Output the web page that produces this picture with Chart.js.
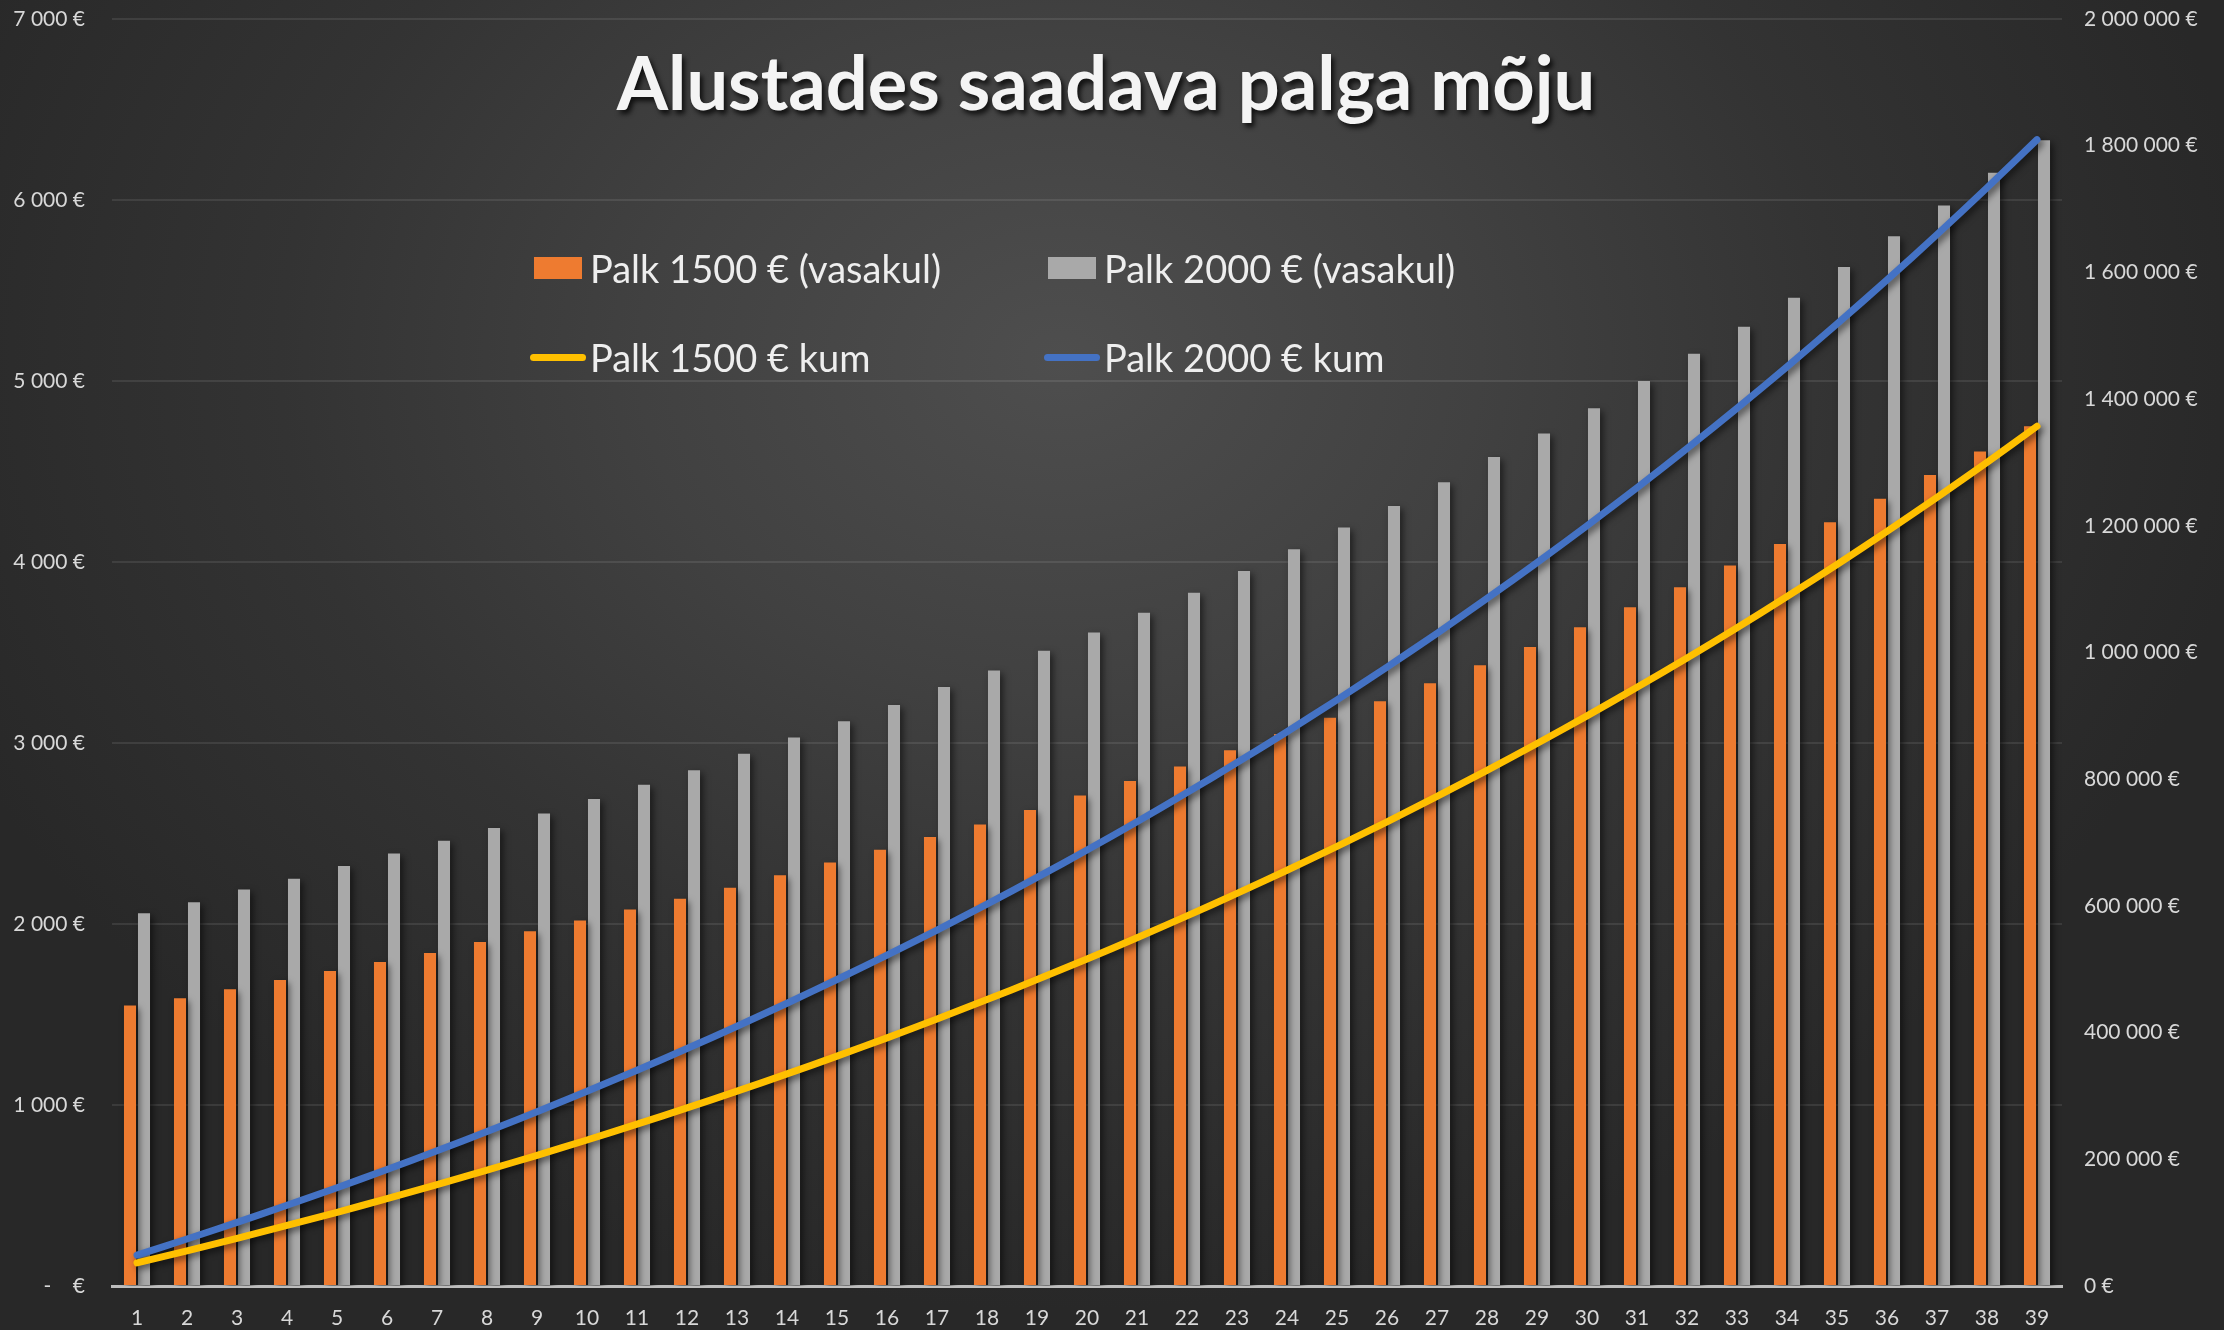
<!DOCTYPE html>
<html>
<head>
<meta charset="utf-8">
<script src="https://cdn.jsdelivr.net/npm/chart.js@4.4.1/dist/chart.umd.min.js"></script>
<style>
  body { margin: 0; background: #262626; }
  #wrap {
    position: relative;
    width: 2224px;
    height: 1330px;
    overflow: hidden;
    background: radial-gradient(ellipse 1200px 950px at 1060px 360px, #4e4e4e 0%, #414141 35%, #333333 65%, #282828 100%);
    font-family: Lato, "Open Sans", sans-serif;
  }
  #chart { position: absolute; left: 0; top: 0; }
  #title {
    position: absolute;
    left: 0; width: 2212px;
    top: 37px;
    text-align: center;
    color: #f4f4f4;
    font-weight: bold;
    font-size: 74px;
    text-shadow: 3px 4px 5px rgba(0,0,0,0.75);
    pointer-events: none;
  }
  #legend {
    position: absolute;
    left: 530px;
    top: 244px;
    display: grid;
    grid-template-columns: 514px 514px;
    grid-auto-rows: 89px;
    pointer-events: none;
  }
  .item { display: flex; align-items: center; height: 48px; color: #eeeeee; font-size: 38px; }
  .sw { width: 56px; height: 48px; display: flex; align-items: center; justify-content: center; margin-right: 4px; }
  .box { width: 48px; height: 22px; }
  .ln { width: 56px; height: 7px; border-radius: 4px; }
</style>
</head>
<body>
<div id="wrap">
  <canvas id="chart" width="2224" height="1330"></canvas>
  <div id="title">Alustades saadava palga mõju</div>
  <div id="legend"></div>
</div>
<script>
// years 1..39
const years = ['1','2','3','4','5','6','7','8','9','10','11','12','13','14','15','16','17','18','19','20',
  '21','22','23','24','25','26','27','28','29','30','31','32','33','34','35','36','37','38','39'];

// monthly salary, left axis
const palk1500 = [1550, 1590, 1640, 1690, 1740, 1790, 1840, 1900, 1960, 2020,
  2080, 2140, 2200, 2270, 2340, 2410, 2480, 2550, 2630, 2710,
  2790, 2870, 2960, 3050, 3140, 3230, 3330, 3430, 3530, 3640,
  3750, 3860, 3980, 4100, 4220, 4350, 4480, 4610, 4750];
const palk2000 = [2060, 2120, 2190, 2250, 2320, 2390, 2460, 2530, 2610, 2690,
  2770, 2850, 2940, 3030, 3120, 3210, 3310, 3400, 3510, 3610,
  3720, 3830, 3950, 4070, 4190, 4310, 4440, 4580, 4710, 4850,
  5000, 5150, 5300, 5460, 5630, 5800, 5970, 6150, 6330];

// cumulative, right axis
const kum1500 = [36500, 55600, 75300, 95600, 116400, 137900, 160100, 182900, 206300, 230500,
  255500, 281100, 307600, 334800, 362800, 391700, 421500, 452100, 483700, 516200,
  549700, 584200, 619700, 656300, 694000, 732800, 772800, 813900, 856400, 900000,
  945100, 991400, 1039100, 1088300, 1139000, 1191100, 1244900, 1300200, 1357200];
const kum2000 = [48700, 74200, 100400, 127400, 155200, 183900, 213400, 243800, 275100, 307400,
  340600, 374800, 410100, 446400, 483800, 522300, 561900, 602800, 644900, 688200,
  732900, 778900, 826200, 875000, 925300, 977000, 1030300, 1085300, 1141800, 1200100,
  1260100, 1321900, 1385500, 1451100, 1518600, 1588200, 1659800, 1733600, 1809600];

const leftTicks = [0, 1000, 2000, 3000, 4000, 5000, 6000, 7000];
const rightTicks = [0, 200000, 400000, 600000, 800000, 1000000, 1200000, 1400000, 1600000, 1800000, 2000000];

function euro(v) {
  return String(v).replace(/\B(?=(\d{3})+(?!\d))/g, ' ') + ' €';
}

// drop shadow like the office chart
const shadowPlugin = {
  id: 'shadow',
  beforeDatasetDraw(chart) {
    const ctx = chart.ctx;
    ctx.save();
    ctx.shadowColor = 'rgba(0,0,0,0.55)';
    ctx.shadowBlur = 7;
    ctx.shadowOffsetX = 3;
    ctx.shadowOffsetY = 3;
  },
  afterDatasetDraw(chart) {
    chart.ctx.restore();
  }
};

const tickFont = { family: 'Lato', size: 21 };
const tickColor = '#d8d8d8';

// plot area edges (top comes from the scales' padding)
function fixV(w) {
  return s => { s.width = w; s.paddingTop = 19; s.paddingBottom = 0; };
}

const chart = new Chart(document.getElementById('chart'), {
  data: {
    labels: years,
    datasets: [
      { type: 'bar', label: 'Palk 1500 € (vasakul)', data: palk1500, backgroundColor: '#EE7B30', yAxisID: 'y', order: 2 },
      { type: 'bar', label: 'Palk 2000 € (vasakul)', data: palk2000, backgroundColor: '#A9A9A9', yAxisID: 'y', order: 2 },
      { type: 'line', label: 'Palk 1500 € kum', data: kum1500, borderColor: '#FFC000', borderWidth: 7,
        pointRadius: 0, tension: 0.3, borderCapStyle: 'round', yAxisID: 'y1', order: 1 },
      { type: 'line', label: 'Palk 2000 € kum', data: kum2000, borderColor: '#4472C4', borderWidth: 7,
        pointRadius: 0, tension: 0.3, borderCapStyle: 'round', yAxisID: 'y1', order: 1 }
    ]
  },
  options: {
    responsive: false,
    animation: false,
    devicePixelRatio: 1,
    layout: { padding: 0 },
    datasets: { bar: { categoryPercentage: 0.56, barPercentage: 0.86 } },
    plugins: { legend: { display: false }, title: { display: false }, tooltip: { enabled: false } },
    scales: {
      x: {
        grid: { display: false, drawTicks: false },
        border: { color: '#bdbdbd', width: 3 },
        ticks: { color: tickColor, font: tickFont, padding: 20, maxRotation: 0, autoSkip: false },
        afterFit: s => { s.height = 44; }
      },
      y: {
        position: 'left',
        min: 0, max: 7000,
        afterBuildTicks: s => { s.ticks = leftTicks.map(v => ({ value: v })); },
        grid: { color: 'rgba(255,255,255,0.09)', lineWidth: 2, drawTicks: false },
        border: { display: false },
        ticks: { color: tickColor, font: tickFont, padding: 27,
          callback: v => v === 0 ? '-    €' : euro(v) },
        afterFit: fixV(112)
      },
      y1: {
        position: 'right',
        min: 0, max: 2000000,
        afterBuildTicks: s => { s.ticks = rightTicks.map(v => ({ value: v })); },
        grid: { drawOnChartArea: false, drawTicks: false },
        border: { display: false },
        ticks: { color: tickColor, font: tickFont, padding: 22, callback: v => euro(v) },
        afterFit: fixV(162)
      }
    }
  },
  plugins: [shadowPlugin]
});

// legend in two columns, overlaid on the plot like the original
const legendDiv = document.getElementById('legend');
chart.data.datasets.forEach(ds => {
  const item = document.createElement('div');
  item.className = 'item';
  const sw = document.createElement('div');
  sw.className = 'sw';
  const mark = document.createElement('div');
  if (ds.type === 'bar') {
    mark.className = 'box';
    mark.style.background = ds.backgroundColor;
  } else {
    mark.className = 'ln';
    mark.style.background = ds.borderColor;
  }
  sw.appendChild(mark);
  const txt = document.createElement('span');
  txt.textContent = ds.label;
  item.appendChild(sw);
  item.appendChild(txt);
  legendDiv.appendChild(item);
});
</script>
</body>
</html>
